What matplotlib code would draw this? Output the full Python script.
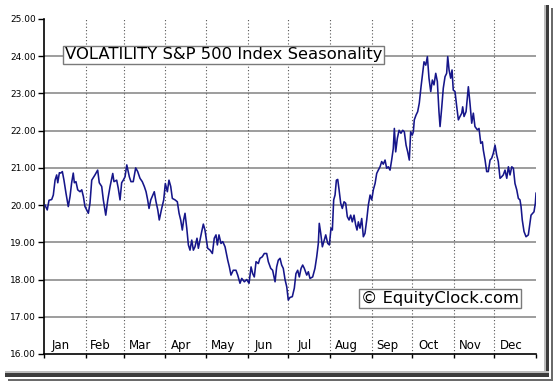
import matplotlib
matplotlib.use("Agg")
import matplotlib.pyplot as plt
from matplotlib.patches import Rectangle
from matplotlib.ticker import FormatStrFormatter
import numpy as np

# seasonal VIX path, day of year -> level
days = [0.7, 2.4, 3.7, 5.7, 6.9, 8.2, 9.4, 10.2, 11.4, 12.4, 13.6, 14.8, 16.3, 18.0, 19.3,
        20.5, 21.7, 22.5, 23.7, 25.0, 26.7, 28.0, 29.2, 30.4, 31.7, 32.9, 34.1, 35.4, 37.8,
        39.8, 41.0, 42.8, 44.0, 45.8, 47.3, 49.0, 51.0, 51.9, 53.9, 55.1, 56.4, 57.6, 58.8,
        60.1, 61.4, 63.3, 64.5, 66.2, 68.0, 69.5, 71.2, 72.9, 74.4, 75.7, 76.9, 77.9, 79.2,
        80.3, 81.8, 83.1, 84.4, 85.5, 87.3, 88.8, 90.0, 91.5, 92.7, 94.0, 95.2, 97.2, 98.9,
        100.2, 101.4, 102.6, 103.6, 104.6, 105.9, 107.1, 108.3, 109.6, 110.8, 112.0, 113.5,
        114.5, 115.7, 117.0, 118.2, 119.4, 121.4, 123.2, 124.9, 126.3, 127.6, 128.6, 129.8,
        131.3, 132.6, 134.3, 136.3, 137.5, 138.7, 140.4, 142.4, 143.7, 145.4, 146.7, 148.6,
        150.4, 152.1, 153.6, 154.8, 156.0, 157.3, 159.0, 160.2, 161.9, 163.4, 165.2, 166.4,
        168.2, 169.6, 171.4, 172.6, 173.8, 175.1, 176.3, 177.5, 178.8, 180.1, 181.2, 182.5,
        184.2, 185.7, 186.9, 188.2, 189.4, 190.7, 191.9, 193.1, 194.9, 196.1, 197.3, 199.3,
        201.0, 202.3, 203.5, 204.2, 205.3, 206.5, 207.9, 209.0, 210.5, 211.7, 212.9, 213.9,
        214.9, 215.9, 216.9, 217.9, 218.9, 220.1, 221.3, 222.6, 223.8, 225.0, 226.3, 227.5,
        228.7, 230.0, 231.2, 232.2, 233.2, 234.4, 235.7, 236.9, 238.1, 239.4, 240.6, 241.9,
        243.1, 244.3, 245.6, 246.8, 248.0, 249.3, 250.5, 251.7, 253.0, 254.2, 255.4, 256.7,
        257.9, 259.1, 259.9, 260.9, 262.1, 263.4, 264.8, 266.1, 267.3, 268.6, 269.8, 271.0,
        272.0, 273.2, 274.0, 274.7, 276.0, 277.2, 278.4, 279.7, 280.9, 281.9, 283.2, 284.4,
        285.6, 286.9, 288.1, 289.3, 290.6, 291.8, 293.0, 293.8, 295.0, 296.2, 297.5, 298.7,
        299.5, 300.5, 301.7, 302.7, 303.6, 304.9, 306.2, 307.4, 308.6, 309.9, 310.6, 311.6,
        313.1, 314.8, 316.0, 317.3, 318.5, 319.7, 321.5, 322.7, 324.0, 325.2, 325.9, 327.2,
        328.4, 329.6, 330.9, 332.1, 333.3, 334.6, 335.8, 337.0, 338.3, 339.5, 340.7, 342.0,
        343.3, 344.5, 345.7, 347.0, 348.2, 349.4, 350.7, 351.9, 353.1, 353.9, 354.8, 356.1,
        357.6, 359.3, 360.5, 361.3, 362.5, 363.5, 364.5, 365.0]
vix = [20.00, 19.87, 20.13, 20.15, 20.27, 20.67, 20.81, 20.60, 20.87, 20.86, 20.90, 20.67,
       20.32, 19.96, 20.23, 20.60, 20.86, 20.60, 20.63, 20.41, 20.36, 20.41, 20.23, 19.96,
       19.87, 19.78, 20.05, 20.67, 20.81, 20.94, 20.60, 20.50, 20.14, 19.73, 20.14, 20.50,
       20.85, 20.63, 20.67, 20.45, 20.14, 20.60, 20.67, 20.76, 21.08, 20.76, 20.63, 20.63,
       21.00, 20.90, 20.72, 20.63, 20.50, 20.36, 20.14, 19.91, 20.14, 20.23, 20.36, 20.09,
       19.87, 19.60, 19.91, 20.14, 20.58, 20.36, 20.67, 20.50, 20.18, 20.14, 20.09, 19.78,
       19.60, 19.33, 19.60, 19.78, 19.38, 18.93, 18.79, 19.06, 18.79, 18.88, 19.11, 18.84,
       19.06, 19.29, 19.49, 19.33, 18.84, 18.79, 18.70, 19.11, 19.20, 18.93, 19.20, 18.97,
       19.02, 18.88, 18.52, 18.34, 18.12, 18.25, 18.25, 18.12, 17.90, 18.03, 17.94, 18.00,
       17.90, 18.34, 18.16, 18.07, 18.48, 18.43, 18.57, 18.61, 18.70, 18.70, 18.48, 18.30,
       18.25, 17.94, 18.34, 18.52, 18.57, 18.39, 18.30, 18.00, 17.80, 17.45, 17.52, 17.54,
       17.77, 18.16, 18.25, 18.07, 18.30, 18.39, 18.30, 18.12, 18.21, 18.03, 18.07, 18.30,
       18.61, 18.97, 19.51, 19.24, 18.88, 19.06, 19.20, 18.97, 18.93, 19.38, 19.33, 20.14,
       20.27, 20.67, 20.69, 20.41, 20.05, 19.91, 20.09, 20.05, 19.69, 19.60, 19.73, 19.55,
       19.73, 19.47, 19.33, 19.55, 19.38, 19.64, 19.15, 19.24, 19.60, 20.00, 20.27, 20.14,
       20.41, 20.58, 20.85, 20.94, 21.03, 21.17, 21.10, 21.21, 20.99, 21.03, 20.94, 21.21,
       21.52, 22.06, 21.43, 21.79, 22.01, 21.93, 22.01, 21.97, 21.61, 21.43, 21.21, 21.97,
       21.88, 21.97, 22.29, 22.42, 22.51, 22.74, 23.18, 23.54, 23.85, 23.76, 23.99, 23.41,
       23.05, 23.36, 23.23, 23.54, 23.32, 22.51, 22.11, 22.60, 23.14, 23.45, 23.54, 23.99,
       23.63, 23.41, 23.63, 23.09, 23.05, 22.64, 22.29, 22.38, 22.47, 22.64, 22.38, 22.51,
       23.18, 22.74, 22.20, 22.47, 22.11, 22.02, 22.06, 21.66, 21.70, 21.48, 21.21, 20.90,
       20.90, 21.21, 21.26, 21.39, 21.61, 21.35, 21.17, 20.72, 20.76, 20.81, 20.94, 20.72,
       21.03, 20.81, 21.03, 20.99, 20.58, 20.41, 20.18, 20.14, 19.96, 19.60, 19.29, 19.15,
       19.20, 19.51, 19.73, 19.78, 19.82, 20.05, 20.32]

month_names = ["Jan", "Feb", "Mar", "Apr", "May", "Jun",
               "Jul", "Aug", "Sep", "Oct", "Nov", "Dec"]
month_starts = [0, 31, 59, 90, 120, 151, 181, 212, 243, 273, 304, 334, 365]
y_levels = [16, 17, 18, 19, 20, 21, 22, 23, 24, 25]

title = "VOLATILITY S&P 500 Index Seasonality"
credit = "\u00a9 EquityClock.com"

plt.rcParams['font.family'] = ['DejaVu Sans']

fig = plt.figure(figsize=(5.55, 3.82), dpi=100)
fig.patch.set_facecolor('white')
ax = fig.add_axes([0.0793, 0.0733, 0.8865, 0.8770])

# grid: solid horizontals, dotted month separators
for v in y_levels[1:-1]:
    ax.axhline(v, color='#8c8c8c', lw=1.2, zorder=1)
for d in month_starts[1:-1]:
    ax.axvline(d, color='#555555', lw=0.8, ls=(0, (1, 2)), zorder=1)

ax.plot(days, vix, color='#16168a', lw=1.15, zorder=3)

ax.set_xlim(month_starts[0], month_starts[-1])
ax.set_ylim(y_levels[0], y_levels[-1])
ax.set_yticks(y_levels)
ax.yaxis.set_major_formatter(FormatStrFormatter('%.2f'))
ax.set_xticks(month_starts)
ax.set_xticklabels([])
ax.tick_params(axis='y', direction='out', length=4, width=1, pad=2, labelsize=6.5)
ax.tick_params(axis='x', direction='out', length=3, width=1)
for s in ['top', 'right']:
    ax.spines[s].set_visible(False)
for s in ['left', 'bottom']:
    ax.spines[s].set_linewidth(1.2)

for i, name in enumerate(month_names):
    mid = (month_starts[i] + month_starts[i + 1]) / 2
    ax.text(mid - 3, 16.22, name, ha='center', va='center', fontsize=8.5, zorder=4)

ax.text(0.0427, 0.8925, title, transform=ax.transAxes, ha='left', va='center',
        fontsize=11.8, zorder=5,
        bbox=dict(boxstyle='square,pad=0.12', fc='white', ec='#7a7a7a', lw=1))
ax.text(0.9654, 0.167, credit, transform=ax.transAxes, ha='right', va='center',
        fontsize=11.8, zorder=5,
        bbox=dict(boxstyle='square,pad=0.12', fc='white', ec='#7a7a7a', lw=1))

# drop shadow around the picture frame
W, H = 555.0, 382.0
def px_rect(x0, y0, x1, y1, color):
    fig.add_artist(Rectangle((x0 / W, 1 - y1 / H), (x1 - x0) / W, (y1 - y0) / H,
                             transform=fig.transFigure, color=color, lw=0))

px_rect(544, 5, 546, 377, '#bdbdbd')
px_rect(546, 5, 549, 377, '#3c3c3c')
px_rect(5, 371, 549, 373, '#bdbdbd')
px_rect(5, 373, 549, 377, '#3c3c3c')
px_rect(551, 8, 553, 381, '#6a6a6a')
px_rect(8, 379, 553, 381, '#6a6a6a')

fig.savefig("out.png", dpi=100)
